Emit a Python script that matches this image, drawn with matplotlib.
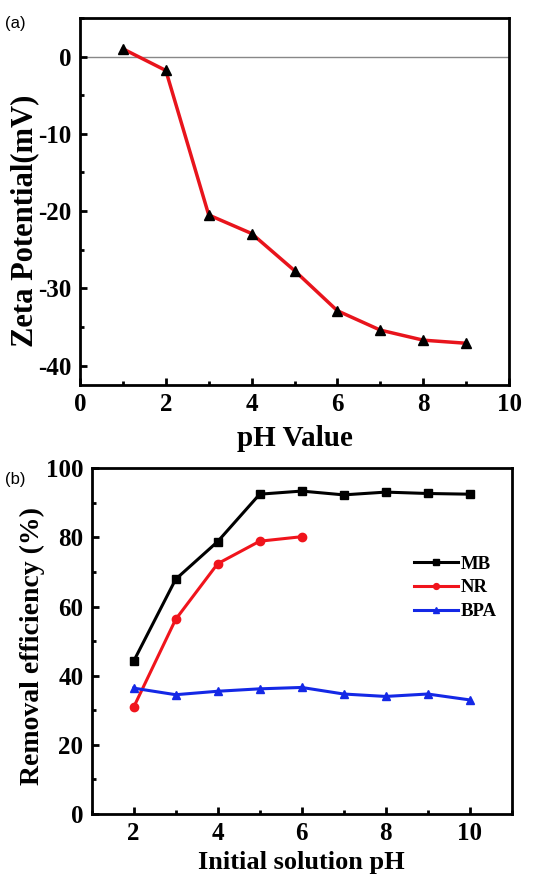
import matplotlib
matplotlib.use("Agg")
import matplotlib.pyplot as plt
from matplotlib.ticker import MultipleLocator

plt.rcParams["axes.unicode_minus"] = False

# (a) zeta potential vs pH
zeta_ph = [1, 2, 3, 4, 5, 6, 7, 8, 9]
zeta_mv = [1.0, -1.8, -20.5, -22.9, -27.7, -32.9, -35.4, -36.7, -37.1]

# (b) removal efficiency vs initial pH
ph_all = [2, 3, 4, 5, 6, 7, 8, 9, 10]
mb_eff = [44.2, 67.9, 78.8, 92.5, 93.4, 92.3, 93.1, 92.7, 92.5]
ph_nr = [2, 3, 4, 5, 6]
nr_eff = [30.9, 56.3, 72.4, 78.9, 80.2]
bpa_eff = [36.4, 34.5, 35.5, 36.2, 36.6, 34.7, 34.0, 34.7, 33.0]

serif = "Liberation Serif"
sans = "Liberation Sans"


def style_axes(ax):
    for s in ax.spines.values():
        s.set_linewidth(2)
    ax.tick_params(which="both", direction="in", width=2, top=False, right=False)
    ax.tick_params(which="major", length=5, labelsize=18, pad=6)
    ax.tick_params(which="minor", length=3)
    for lab in ax.get_xticklabels() + ax.get_yticklabels():
        lab.set_fontfamily(serif)
        lab.set_fontweight("bold")


fig = plt.figure(figsize=(5.5, 8.84), dpi=100)

# panel (a)
ax1 = fig.add_axes([0.1455, 0.5645, 0.78, 0.4152])
ax1.axhline(0, color="#888888", lw=1, zorder=1)
ax1.plot(zeta_ph, zeta_mv, color="#e8141c", lw=2.5, zorder=2)
ax1.plot(zeta_ph, zeta_mv, ls="none", marker="^", ms=7, color="black", zorder=3)
ax1.set_xlim(0, 10)
ax1.set_ylim(-42.5, 5)
ax1.xaxis.set_major_locator(MultipleLocator(2))
ax1.xaxis.set_minor_locator(MultipleLocator(1))
ax1.yaxis.set_major_locator(MultipleLocator(10))
ax1.yaxis.set_minor_locator(MultipleLocator(5))
style_axes(ax1)
ax1.set_xlabel("pH Value", fontfamily=serif, fontweight="bold", fontsize=21, labelpad=6)
ax1.set_ylabel("Zeta Potential(mV)", fontfamily=serif, fontweight="bold", fontsize=22)
ax1.yaxis.set_label_coords(-0.095, 0.447)
fig.text(0.01, 0.968, "(a)", fontfamily=sans, fontsize=12)

# panel (b)
ax2 = fig.add_axes([0.1667, 0.0792, 0.7636, 0.3911])
ax2.plot(ph_all, mb_eff, color="black", lw=2.2, marker="s", ms=6, label="MB")
ax2.plot(ph_nr, nr_eff, color="#f0141c", lw=2.2, marker="o", ms=6, label="NR")
ax2.plot(ph_all, bpa_eff, color="#1428e6", lw=2.2, marker="^", ms=6, label="BPA")
ax2.set_xlim(1, 11)
ax2.set_ylim(0, 100)
ax2.xaxis.set_major_locator(MultipleLocator(2))
ax2.xaxis.set_minor_locator(MultipleLocator(1))
ax2.yaxis.set_major_locator(MultipleLocator(20))
ax2.yaxis.set_minor_locator(MultipleLocator(10))
style_axes(ax2)
ax2.set_xlabel("Initial solution pH", fontfamily=serif, fontweight="bold", fontsize=19, labelpad=4)
ax2.set_ylabel("Removal efficiency (%)", fontfamily=serif, fontweight="bold", fontsize=20)
ax2.yaxis.set_label_coords(-0.11, 0.486)
leg = ax2.legend(loc="upper right", bbox_to_anchor=(0.965, 0.748), frameon=False,
                 prop={"family": serif, "weight": "bold", "size": 13.5},
                 handlelength=2.35, handletextpad=0.15, labelspacing=0.36,
                 borderpad=0, borderaxespad=0, markerscale=0.7)
fig.text(0.01, 0.453, "(b)", fontfamily=sans, fontsize=12)

fig.savefig("out.png", dpi=100)
